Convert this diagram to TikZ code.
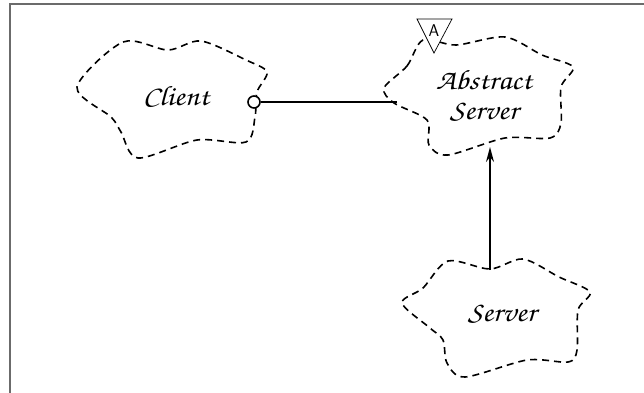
\documentclass[tikz,border=0pt]{standalone}
\usetikzlibrary{arrows.meta}
\newcommand\chancery{\fontencoding{OT1}\fontfamily{pzc}\fontseries{mb}\fontshape{it}\selectfont}
\tikzset{
  cloud/.style={draw=black, line width=1.6pt, dash pattern=on 7pt off 5pt},
  lbl/.style={font=\chancery\fontsize{28}{30}\selectfont, align=center, inner sep=0pt, xscale=1.12},
  conn/.style={draw=black, line width=1.6pt},
}
\begin{document}
\begin{tikzpicture}[x=1pt,y=-1pt]
\useasboundingbox (0,0) rectangle (644,392);
\draw[color=black!58, line width=2pt] (9.5,400) -- (9.5,3.5) -- (660,3.5);
% clouds
\draw[cloud] plot[smooth cycle, tension=0.5] coordinates {
 (77,87) (123,42) (168,50) (201,41) (246,60) (267,72) (257,92) (255,117)
 (246,142) (197,140) (138,158) (121,132) (111,117)};
\draw[cloud] plot[smooth cycle, tension=0.5] coordinates {
 (384,88) (407,66) (423,40) (456,45) (505,37) (542,55) (573,67) (561,87) (561,123)
 (550,138) (505,138) (448,155) (429,145) (427,120) (394,103)};
\draw[cloud] plot[smooth cycle, tension=0.5] coordinates {
 (402,303) (423,288) (448,261) (490,269) (523,259) (559,277) (590,292) (578,310) (577,350)
 (568,362) (527,360) (465,377) (447,363) (443,340) (430,328)};
\node[lbl] (client) at (176,96) {Client};
\node[lbl] (abs) at (484,96) {Abstract\\Server};
\node[lbl] (srv) at (502,314) {Server};
% abstract marker
\coordinate (t1) at (417,19);
\coordinate (t2) at (452,19);
\coordinate (t3) at (434,53);
\draw[fill=white, line width=0.7pt] (t1) -- (t2) -- (t3) -- cycle;
\node[font=\sffamily\fontsize{17}{17}\selectfont, inner sep=0pt] (amark) at (434,31) {A};
% connectors
\node[circle, draw, line width=1.6pt, fill=white, minimum size=12pt, inner sep=0pt] (ball) at (254,102) {};
\coordinate (absleft) at (397,102);
\draw[conn] (ball.east) -- (absleft);
\coordinate (srvtop) at (490,270);
\coordinate (absbot) at (490,147);
\draw[conn, -{Stealth[length=15pt, width=8pt]}] (srvtop) -- (absbot);
\end{tikzpicture}
\end{document}
